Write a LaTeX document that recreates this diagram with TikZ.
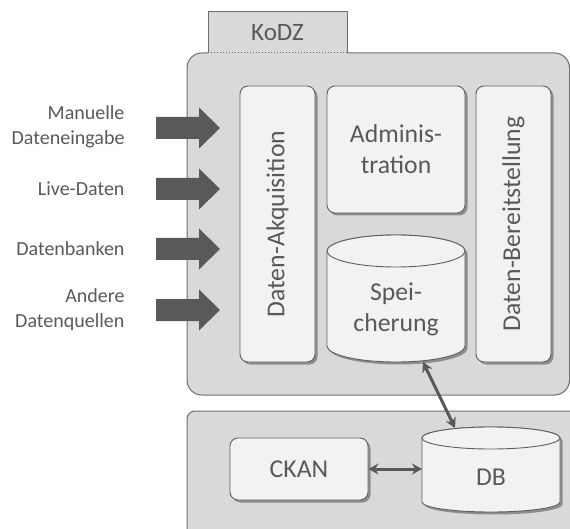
\documentclass[tikz,border=0pt]{standalone}
\usepackage{fontspec}
\setmainfont{Carlito}
\usetikzlibrary{shadows,arrows.meta}
\definecolor{outerfill}{HTML}{D9D9D9}
\definecolor{outerline}{HTML}{6E6E6E}
\definecolor{innerfill}{HTML}{F2F2F2}
\definecolor{innerline}{HTML}{5F5F5F}
\definecolor{txt}{HTML}{595959}
\definecolor{arr}{HTML}{595959}
\tikzset{
  outerbox/.style={fill=outerfill, draw=outerline, line width=1pt},
  innerbox/.style={draw=innerline, fill=innerfill, line width=0.9pt, rounded corners=8pt,
    drop shadow={shadow xshift=2.5pt, shadow yshift=-2.5pt, opacity=0.35, fill=black}},
  bigtxt/.style={text=txt, font=\fontsize{25.7}{31}\selectfont, align=center},
  lbl/.style={text=txt, font=\fontsize{20}{25}\selectfont, align=right, anchor=east},
  blockarrow/.style={fill=arr},
  link/.style={draw=arr, line width=3pt, {Stealth[length=10pt,width=11pt]}-{Stealth[length=10pt,width=11pt]}}
}
\newcommand\myblockarrow[1]{%
  \path[blockarrow] (156,{#1-11}) -- (199,{#1-11}) -- (199,{#1-20.5}) -- (220,#1)
    -- (199,{#1+20.5}) -- (199,{#1+11}) -- (156,{#1+11}) -- cycle;}
\begin{document}
\begin{tikzpicture}[x=1pt,y=-1pt]
\useasboundingbox (0,0) rectangle (570,529);
% outer boxes
\path[outerbox, rounded corners=15pt] (187,53) rectangle (569.5,395);
\path[outerbox, rounded corners=8pt] (187,411) rectangle (590,545);
% tab
\fill[outerfill] (208,12) rectangle (347,54);
\draw[outerline, line width=1pt] (208,53) -- (208,12) -- (347,12) -- (347,53);
\draw[outerline, line width=1pt, dotted] (208,53) -- (347,53);
\node[bigtxt, font=\fontsize{25}{30}\selectfont] (kodz) at (277.5,33) {KoDZ};

% inner boxes
\node[innerbox, minimum width=75pt, minimum height=276pt] (akq) at (277.5,224) {};
\node[bigtxt, rotate=90] (akqt) at (277.5,224) {Daten-Akquisition};
\node[innerbox, minimum width=138pt, minimum height=127pt, bigtxt] (admin) at (396,149.5) {Adminis-\\tration};
\node[innerbox, minimum width=75pt, minimum height=276pt] (bereit) at (513.5,224) {};
\node[bigtxt, rotate=90] (bereitt) at (513.5,224) {Daten-Bereitstellung};

% Speicherung cylinder
\path[draw=innerline, fill=innerfill, line width=0.9pt,
  drop shadow={shadow xshift=2.5pt, shadow yshift=-2.5pt, opacity=0.35, fill=black}]
  (327,251) -- (327,346) arc[start angle=180, end angle=360, x radius=69pt, y radius=16pt]
  -- (465,251) arc[start angle=0, end angle=180, x radius=69pt, y radius=16pt] -- cycle;
\draw[innerline, line width=0.9pt, fill=innerfill] (396,251) ellipse[x radius=69pt, y radius=16pt];
\node[bigtxt] (speich) at (396,309) {Spei-\\cherung};

% CKAN
\node[innerbox, minimum width=138pt, minimum height=62pt, bigtxt] (ckan) at (299,469) {CKAN};

% DB cylinder
\path[draw=innerline, fill=innerfill, line width=0.9pt,
  drop shadow={shadow xshift=2.5pt, shadow yshift=-2.5pt, opacity=0.35, fill=black}]
  (422,438) -- (422,502) arc[start angle=180, end angle=360, x radius=69pt, y radius=10pt]
  -- (560,438) arc[start angle=0, end angle=180, x radius=69pt, y radius=11pt] -- cycle;
\draw[innerline, line width=0.9pt, fill=innerfill] (491,438) ellipse[x radius=69pt, y radius=11pt];
\node[bigtxt] (db) at (491,477) {DB};

% connector anchors
\coordinate (spbot) at (423,362);
\coordinate (dbtop) at (455,428);
\coordinate (dbwest) at (422,469);
\draw[link] (spbot) -- (dbtop);
\draw[link] (ckan.east) -- (dbwest);

% input arrows and labels
\myblockarrow{128}
\myblockarrow{189}
\myblockarrow{249}
\myblockarrow{310}
\node[lbl] (l1) at (128,127) {Manuelle\\Dateneingabe};
\node[lbl] (l2) at (128,189) {Live-Daten};
\node[lbl] (l3) at (128,249) {Datenbanken};
\node[lbl] (l4) at (128,310) {Andere\\Datenquellen};
\end{tikzpicture}
\end{document}
